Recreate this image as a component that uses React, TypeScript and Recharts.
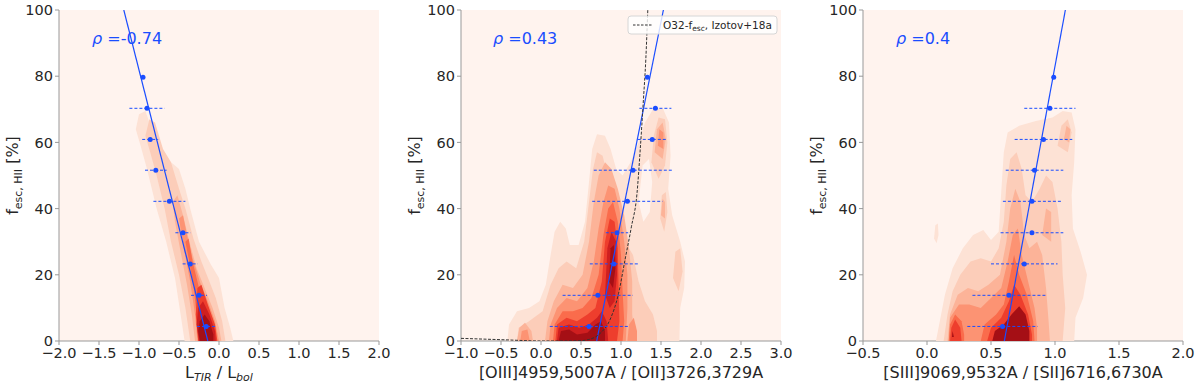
import React from 'react';
import { ScatterChart, Scatter, XAxis, YAxis, CartesianGrid } from 'recharts';

type Pt = [number, number];

// axes
const Y_TICKS = [0, 20, 40, 60, 80, 100];
const TIR_TICKS = [-2, -1.5, -1, -0.5, 0, 0.5, 1, 1.5, 2];
const O32_TICKS = [-1, -0.5, 0, 0.5, 1, 1.5, 2, 2.5, 3];
const S32_TICKS = [-0.5, 0, 0.5, 1, 1.5, 2];

// binned f_esc medians (shared y values for all three panels)
const BIN_FESC = [79.7, 70.3, 60.9, 51.6, 42.2, 32.7, 23.3, 13.8, 4.4];

const TIR_MED = [-0.95, -0.9, -0.86, -0.79, -0.62, -0.45, -0.36, -0.25, -0.16];
const TIR_ERR = [0, 0.22, 0.1, 0.135, 0.2, 0.095, 0.095, 0.1, 0.115];
const O32_MED = [1.33, 1.43, 1.39, 1.15, 1.08, 0.95, 0.91, 0.71, 0.6];
const O32_ERR = [0, 0.2, 0.18, 0.49, 0.44, 0.14, 0.3, 0.44, 0.49];
const S32_MED = [0.99, 0.96, 0.91, 0.84, 0.82, 0.82, 0.76, 0.64, 0.59];
const S32_ERR = [0, 0.2, 0.225, 0.225, 0.227, 0.245, 0.26, 0.285, 0.275];

// linear fits
const TIR_FIT: Pt[] = [[-1.19, 100], [-0.14, 0]];
const O32_FIT: Pt[] = [[0.696, 0], [1.53, 100]];
const S32_FIT: Pt[] = [[0.604, 0], [1.081, 100]];

// O32 - f_esc relation, Izotov+18a
const IZOTOV: Pt[] = [
  [-1, 0.8], [-0.5, 0.4], [0, 0.02], [0.3, 0.02], [0.5, 0.1], [0.59, 0.4], [0.74, 2.3],
  [0.86, 6.3], [0.97, 14.4], [1.05, 24.5], [1.13, 34.5], [1.2, 44.6], [1.24, 57.7],
  [1.28, 72.8], [1.31, 85], [1.335, 100],
];

const RHO = ['-0.74', '0.43', '0.4'];

// KDE contour levels: index 0 is the panel background
const BG = '#fff3ee';
const LEVEL_COLORS = [BG, '#fde2d5', '#fccdb9', '#fcb398', '#fc9373', '#fa6c4c', '#ee3e2d', '#cf1f20', '#a50f15'];
const BLUE = '#1a4dff';

const TIR_CONTOURS: [number, Pt[]][] = [
  [1, [[-1.04, 64], [-1.0, 68.5], [-0.92, 69.5], [-0.84, 64], [-0.74, 57], [-0.6, 54], [-0.5, 52], [-0.42, 46], [-0.36, 40], [-0.25, 30], [-0.1, 23], [0.0, 19], [0.07, 10], [0.14, 4], [0.18, 0], [-0.43, 0], [-0.48, 8], [-0.55, 19], [-0.66, 30], [-0.78, 40], [-0.9, 52], [-0.98, 59]]],
  [2, [[-0.92, 62], [-0.87, 67], [-0.8, 66], [-0.7, 58], [-0.6, 54], [-0.5, 46], [-0.42, 40], [-0.32, 31], [-0.22, 24], [-0.12, 18], [-0.04, 13], [0.04, 6], [0.08, 0], [-0.36, 0], [-0.42, 10], [-0.5, 20], [-0.6, 30], [-0.68, 40], [-0.78, 50], [-0.86, 57]]],
  [3, [[-0.58, 42], [-0.52, 44], [-0.45, 38], [-0.37, 30], [-0.28, 22], [-0.18, 16], [-0.08, 10], [0.0, 4], [0.03, 0], [-0.3, 0], [-0.34, 8], [-0.4, 17], [-0.48, 27], [-0.55, 36]]],
  [4, [[-0.5, 37], [-0.45, 38], [-0.4, 32], [-0.33, 25], [-0.24, 18], [-0.14, 12], [-0.05, 6], [0.0, 0], [-0.27, 0], [-0.3, 8], [-0.36, 18], [-0.44, 28]]],
  [5, [[-0.42, 30], [-0.38, 31], [-0.33, 24], [-0.25, 16], [-0.15, 11], [-0.07, 5], [-0.04, 0], [-0.26, 0], [-0.28, 8], [-0.32, 17], [-0.38, 25]]],
  [6, [[-0.27, 16], [-0.22, 17], [-0.14, 11], [-0.05, 5], [-0.02, 0], [-0.26, 0], [-0.29, 8]]],
  [7, [[-0.26, 10], [-0.2, 12], [-0.12, 8], [-0.05, 3], [-0.04, 0], [-0.25, 0], [-0.28, 5]]],
  [8, [[-0.24, 6], [-0.18, 8], [-0.12, 6], [-0.07, 2], [-0.07, 0], [-0.24, 0], [-0.26, 3]]],
];

const O32_CONTOURS: [number, Pt[]][] = [
  [1, [[-0.42, 0], [-0.4, 5], [-0.3, 9], [-0.15, 10], [-0.02, 12], [0.06, 17], [0.12, 26], [0.17, 33], [0.24, 36], [0.31, 34], [0.36, 29], [0.47, 29], [0.55, 36], [0.6, 48], [0.64, 58], [0.7, 62.5], [0.8, 62], [0.87, 58], [0.94, 52], [1.02, 50], [1.12, 54], [1.22, 60], [1.3, 66], [1.4, 70], [1.52, 70.5], [1.6, 66], [1.62, 56], [1.59, 46], [1.64, 38], [1.74, 30], [1.8, 24], [1.79, 16], [1.74, 10], [1.73, 0]]],
  [0, [[1.22, 42], [1.28, 36], [1.36, 39], [1.39, 48], [1.35, 55], [1.27, 53]]],
  [2, [[-0.3, 0], [-0.28, 4], [-0.15, 6], [0.02, 9], [0.12, 17], [0.22, 22], [0.32, 24], [0.44, 22], [0.54, 30], [0.6, 42], [0.65, 52], [0.7, 57], [0.77, 56], [0.83, 50], [0.88, 42], [0.95, 36], [1.05, 30], [1.15, 26], [1.22, 18], [1.3, 12], [1.4, 8], [1.45, 3], [1.45, 0]]],
  [2, [[1.38, 54], [1.41, 62], [1.47, 67.5], [1.55, 67], [1.58, 60], [1.55, 53], [1.47, 49]]],
  [2, [[1.49, 37], [1.51, 44], [1.56, 45], [1.58, 39], [1.54, 33]]],
  [2, [[1.65, 19], [1.68, 27], [1.74, 28], [1.77, 21], [1.72, 15]]],
  [3, [[-0.3, 0], [-0.27, 4], [-0.2, 5.5], [-0.12, 3], [-0.1, 0]]],
  [3, [[0.05, 0], [0.08, 6], [0.16, 12], [0.27, 17], [0.4, 16], [0.52, 20], [0.6, 30], [0.66, 42], [0.72, 50], [0.8, 54], [0.88, 52], [0.96, 46], [1.04, 38], [1.1, 28], [1.14, 18], [1.14, 8], [1.18, 0]]],
  [3, [[1.42, 57], [1.45, 64], [1.52, 66], [1.56, 61], [1.52, 55]]],
  [3, [[1.5, 38], [1.52, 43], [1.55, 42], [1.55, 37]]],
  [4, [[-0.26, 0], [-0.24, 3], [-0.17, 3.5], [-0.14, 0]]],
  [4, [[0.1, 0], [0.12, 5], [0.2, 10], [0.32, 13], [0.45, 12], [0.58, 16], [0.66, 24], [0.72, 34], [0.78, 42], [0.84, 47], [0.92, 46], [0.98, 40], [1.04, 30], [1.08, 20], [1.08, 10], [1.06, 0]]],
  [4, [[1.46, 59], [1.48, 64], [1.53, 63], [1.53, 58]]],
  [4, [[1.08, 0], [1.1, 5], [1.16, 7], [1.2, 3], [1.2, 0]]],
  [5, [[0.15, 0], [0.17, 5], [0.27, 9], [0.4, 9], [0.52, 10], [0.63, 13], [0.72, 20], [0.78, 32], [0.84, 40], [0.9, 42], [0.96, 36], [1.0, 26], [1.02, 15], [1.04, 6], [1.02, 0]]],
  [6, [[0.18, 0], [0.2, 5], [0.32, 7], [0.45, 6], [0.58, 8], [0.68, 10], [0.76, 18], [0.8, 30], [0.86, 37], [0.92, 36], [0.96, 28], [0.97, 16], [0.98, 6], [0.95, 0]]],
  [7, [[0.2, 0], [0.22, 4], [0.35, 5], [0.48, 4], [0.6, 5], [0.7, 7], [0.76, 9], [0.82, 6], [0.84, 0]]],
  [7, [[0.8, 14], [0.83, 28], [0.88, 33], [0.94, 30], [0.95, 20], [0.92, 12], [0.86, 10]]],
  [8, [[0.22, 0], [0.25, 3], [0.35, 3.5], [0.45, 2], [0.58, 2.5], [0.68, 5], [0.75, 6], [0.8, 3], [0.8, 0]]],
  [8, [[0.85, 18], [0.87, 28], [0.91, 29], [0.93, 22], [0.9, 16]]],
];

const S32_CONTOURS: [number, Pt[]][] = [
  [1, [[0.07, 0], [0.1, 6], [0.14, 14], [0.2, 22], [0.28, 28], [0.36, 32], [0.44, 33.5], [0.5, 30.5], [0.56, 33], [0.58, 45], [0.6, 57], [0.63, 63], [0.72, 65], [0.85, 66.5], [0.98, 67.5], [1.06, 69.5], [1.13, 69], [1.16, 64], [1.15, 54], [1.13, 44], [1.14, 34], [1.2, 27], [1.25, 20], [1.22, 13], [1.16, 7], [1.15, 0]]],
  [1, [[0.055, 31], [0.065, 35], [0.085, 35.5], [0.09, 32], [0.075, 29.5]]],
  [2, [[0.13, 0], [0.16, 8], [0.2, 15], [0.26, 20], [0.34, 24], [0.42, 25], [0.5, 24], [0.56, 28], [0.6, 36], [0.62, 47], [0.65, 55], [0.7, 57], [0.74, 52], [0.77, 44], [0.82, 42], [0.88, 46], [0.93, 50], [0.98, 48], [1.02, 40], [1.05, 30], [1.06, 20], [1.08, 10], [1.06, 0]]],
  [2, [[1.02, 59], [1.05, 65], [1.1, 67], [1.13, 63], [1.1, 57]]],
  [3, [[0.16, 0], [0.18, 8], [0.24, 14], [0.32, 16], [0.4, 15], [0.48, 17], [0.57, 20], [0.62, 30], [0.65, 40], [0.69, 46], [0.73, 42], [0.76, 32], [0.8, 28], [0.86, 30], [0.9, 26], [0.93, 16], [0.95, 6], [0.96, 0]]],
  [3, [[0.9, 32], [0.93, 40], [0.97, 39], [0.97, 30]]],
  [3, [[1.07, 61], [1.09, 65], [1.12, 64], [1.11, 60]]],
  [4, [[0.17, 0], [0.18, 7], [0.25, 11], [0.33, 11], [0.42, 10], [0.5, 13], [0.58, 16], [0.63, 24], [0.67, 32], [0.71, 34], [0.74, 26], [0.79, 18], [0.84, 10], [0.86, 4], [0.86, 0]]],
  [5, [[0.17, 0], [0.18, 5], [0.22, 8], [0.27, 6], [0.29, 2], [0.29, 0]]],
  [5, [[0.42, 0], [0.45, 5], [0.54, 8], [0.6, 11], [0.64, 18], [0.68, 26], [0.72, 20], [0.78, 14], [0.83, 6], [0.84, 0]]],
  [6, [[0.18, 0], [0.19, 4], [0.22, 6.5], [0.26, 4], [0.27, 0]]],
  [6, [[0.47, 0], [0.5, 4], [0.58, 7], [0.64, 12], [0.68, 17], [0.73, 14], [0.79, 8], [0.82, 2], [0.82, 0]]],
  [8, [[0.51, 0], [0.53, 3], [0.6, 5], [0.66, 8], [0.72, 10.5], [0.77, 8], [0.8, 3], [0.8, 0]]],
  [8, [[0.195, 1.2], [0.2, 3], [0.21, 1.2]]],
];

const toXY = (pts: Pt[]) => pts.map(([x, y]) => ({ x, y }));
const noDot = () => <g />;
const dot = (p: any) => <circle cx={p.cx} cy={p.cy} r={2.5} fill={BLUE} />;
const fmt = (v: number) => v.toFixed(1).replace('-', '\u2212');

const TEXT = '#262626';
const AXIS = '#999';

const yLabel = (props: any) => {
  const vb = props.viewBox || { x: 0, y: 10, width: 59, height: 331 };
  const cx = vb.x + 18;
  const cy = vb.y + vb.height / 2;
  return (
    <text x={cx} y={cy} transform={`rotate(-90 ${cx} ${cy})`} textAnchor="middle" fontSize={16} fill={TEXT}>
      f<tspan fontSize={11} dy={4}>esc, HII</tspan><tspan dy={-4}> [%]</tspan>
    </text>
  );
};

const xLabel = (kind: string) => (props: any) => {
  const vb = props.viewBox || { x: 59, y: 341, width: 320, height: 44 };
  const cx = vb.x + vb.width / 2;
  const y = vb.y + 37;
  if (kind === 'tir') {
    return (
      <text x={cx} y={y} textAnchor="middle" fontSize={16} fill={TEXT}>
        L<tspan fontSize={11} fontStyle="italic" dy={3}>TIR</tspan>
        <tspan dy={-3}> / L</tspan>
        <tspan fontSize={11} fontStyle="italic" dy={3}>bol</tspan>
      </text>
    );
  }
  return (
    <text x={cx} y={y} textAnchor="middle" fontSize={16} fill={TEXT}>
      {kind}
    </text>
  );
};

const Panel = ({
  left, domain, ticks, contours, med, err, fit, label, children,
}: {
  left: number; domain: [number, number]; ticks: number[]; contours: [number, Pt[]][];
  med: number[]; err: number[]; fit: Pt[]; label: string; children?: React.ReactNode;
}) => {
  const bins = med.map((x, i) => ({ x, y: BIN_FESC[i] }));
  return (
    <div style={{ position: 'absolute', left, top: 0 }}>
      <ScatterChart width={400} height={385} margin={{ top: 10, right: 21, bottom: 0, left: 0 }}>
        <CartesianGrid fill={BG} fillOpacity={1} stroke="none" horizontal={false} vertical={false} />
        <XAxis
          type="number" dataKey="x" domain={domain} ticks={ticks} interval={0} allowDataOverflow
          height={44} tickSize={4} tickMargin={3} stroke={AXIS} tickFormatter={fmt}
          tick={{ fill: TEXT, fontSize: 14.5 }} label={xLabel(label)}
        />
        <YAxis
          type="number" dataKey="y" domain={[0, 100]} ticks={Y_TICKS} interval={0} allowDataOverflow
          width={59} tickSize={4} tickMargin={2} stroke={AXIS}
          tick={{ fill: TEXT, fontSize: 14.5 }} label={yLabel}
        />
        {contours.map(([lvl, poly], i) => (
          <Scatter
            key={`c${i}`} data={toXY(poly)} shape={noDot} isAnimationActive={false}
            line={{ fill: LEVEL_COLORS[lvl], stroke: 'none' }}
          />
        ))}
        <Scatter data={toXY(fit)} shape={noDot} isAnimationActive={false} line={{ stroke: BLUE, strokeWidth: 1.2, fill: 'none' }} />
        {children}
        {/* horizontal error bars, dashed */}
        {med.map((x, i) => err[i] > 0 && (
          <Scatter
            key={`e${i}`} shape={noDot} isAnimationActive={false}
            data={[{ x: x - err[i], y: BIN_FESC[i] }, { x: x + err[i], y: BIN_FESC[i] }]}
            line={{ stroke: BLUE, strokeWidth: 1, strokeDasharray: '3 2', fill: 'none' }}
          />
        ))}
        <Scatter data={bins} fill={BLUE} shape={dot} isAnimationActive={false} />
      </ScatterChart>
    </div>
  );
};

export default function App() {
  return (
    <div
      style={{
        position: 'absolute', left: 0, top: 0, width: 1200, height: 385, overflow: 'hidden',
        background: '#fff', fontFamily: '"DejaVu Sans", sans-serif',
      }}
    >
      <Panel left={0} domain={[-2, 2]} ticks={TIR_TICKS} contours={TIR_CONTOURS} med={TIR_MED} err={TIR_ERR} fit={TIR_FIT} label="tir" />
      <Panel left={402} domain={[-1, 3]} ticks={O32_TICKS} contours={O32_CONTOURS} med={O32_MED} err={O32_ERR} fit={O32_FIT} label="[OIII]4959,5007A / [OII]3726,3729A">
        <Scatter
          data={toXY(IZOTOV)} shape={noDot} isAnimationActive={false} lineJointType="monotoneX"
          line={{ stroke: '#333', strokeWidth: 1, strokeDasharray: '3 1.5', fill: 'none' }}
        />
      </Panel>
      <Panel left={804} domain={[-0.5, 2]} ticks={S32_TICKS} contours={S32_CONTOURS} med={S32_MED} err={S32_ERR} fit={S32_FIT} label="[SIII]9069,9532A / [SII]6716,6730A" />
      <svg width={1200} height={385} style={{ position: 'absolute', left: 0, top: 0, pointerEvents: 'none' }}>
        {[92, 493, 896].map((x, i) => (
          <text key={i} x={x} y={44} fontSize={16} fill={BLUE}>
            <tspan fontStyle="italic">ρ</tspan> ={RHO[i]}
          </text>
        ))}
        <rect x={628} y={16} width={149} height={18} rx={3} fill="#fff" fillOpacity={0.8} stroke="#d6d6d6" />
        <line x1={633} x2={653} y1={25} y2={25} stroke="#333" strokeWidth={1} strokeDasharray="2.5 1.5" />
        <text x={663} y={29} fontSize={10.5} fill={TEXT}>
          O32-f<tspan fontSize={7.5} dy={2}>esc</tspan><tspan dy={-2}>, Izotov+18a</tspan>
        </text>
      </svg>
    </div>
  );
}
